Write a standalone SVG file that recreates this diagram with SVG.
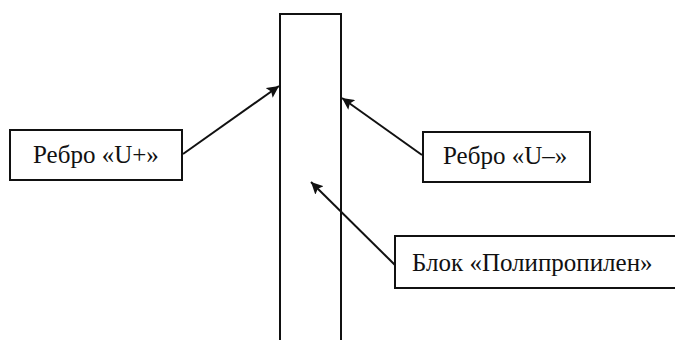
<svg xmlns="http://www.w3.org/2000/svg" width="675" height="340" viewBox="0 0 675 340">
<defs>
<marker id="ah" viewBox="0 0 10 10" refX="10" refY="5" markerWidth="6" markerHeight="6" orient="auto" markerUnits="strokeWidth">
<path d="M0,0 L10,5 L0,10 L2,5 z" fill="#111"/>
</marker>
<style>
.box{fill:#fff;stroke:#111;stroke-width:2}
.lbl{font-family:'Liberation Serif','Times New Roman',serif;font-size:25px;fill:#111}
.con{stroke:#111;stroke-width:2;fill:none;marker-end:url(#ah)}
</style>
</defs>
<rect width="675" height="340" fill="#fff"/>
<g id="block">
<rect class="box" x="280" y="14" width="61" height="340"/>
</g>
<g id="rib-plus">
<rect class="box" x="10" y="130" width="172" height="50"/>
<text class="lbl" x="33" y="163">Ребро «U+»</text>
</g>
<g id="rib-minus">
<rect class="box" x="423" y="132" width="167" height="50"/>
<text class="lbl" x="443" y="164">Ребро «U–»</text>
</g>
<g id="polypropylene">
<rect class="box" x="395" y="236" width="285" height="52"/>
<text class="lbl" x="412" y="271">Блок «Полипропилен»</text>
</g>
<g id="connectors">
<line class="con" x1="183" y1="154" x2="279" y2="86"/>
<line class="con" x1="422" y1="155" x2="342" y2="98"/>
<line class="con" x1="395" y1="265" x2="311" y2="182"/>
</g>
</svg>
